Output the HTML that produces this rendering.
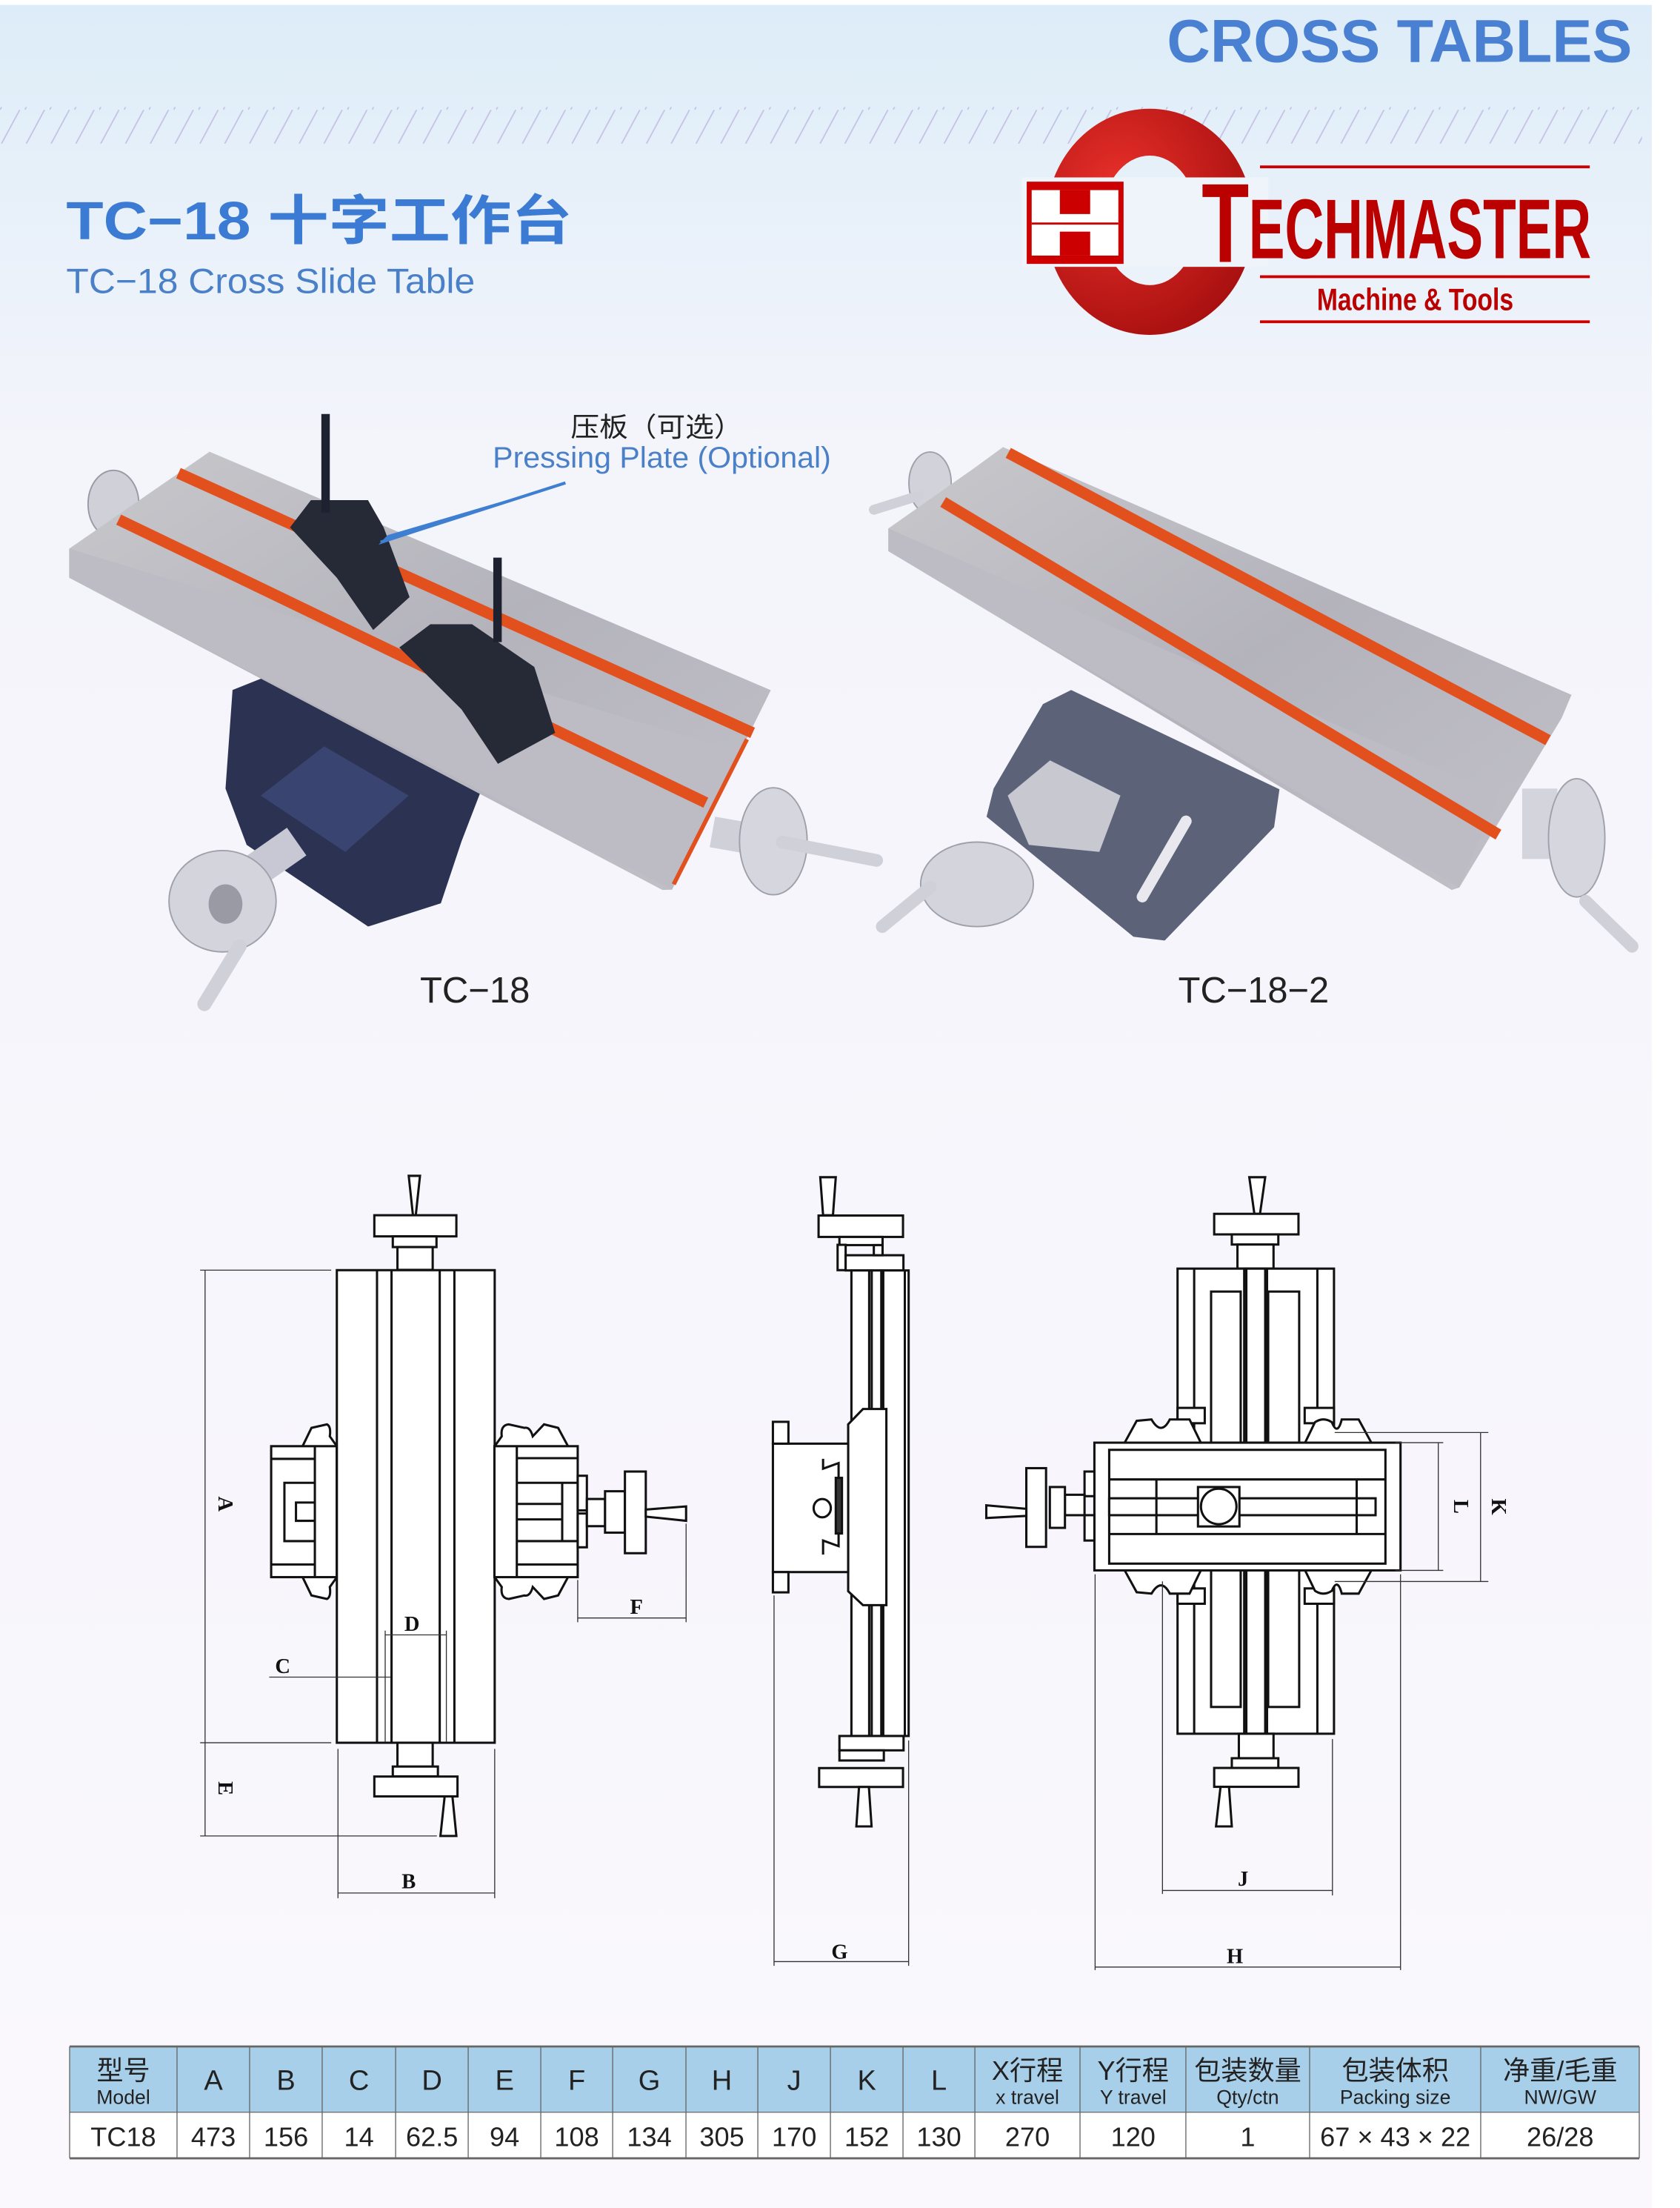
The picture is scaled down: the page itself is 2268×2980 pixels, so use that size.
<!DOCTYPE html>
<html><head><meta charset="utf-8"><style>
html,body{margin:0;padding:0;background:#faf8fc;}
svg{display:block}
</style></head><body>
<svg width="2268" height="2980" viewBox="0 0 1192 1568" preserveAspectRatio="none" xmlns="http://www.w3.org/2000/svg" font-family="'Liberation Sans','Noto Sans CJK SC',sans-serif">
<defs>
<linearGradient id="bg" x1="0" y1="0" x2="0" y2="1">
<stop offset="0" stop-color="#dcecf8"/><stop offset="0.08" stop-color="#e6f0f9"/><stop offset="0.2" stop-color="#f4f4fb"/><stop offset="1" stop-color="#faf8fc"/></linearGradient>
<pattern id="hatch" width="17.6" height="26" patternUnits="userSpaceOnUse">
<line x1="0" y1="26" x2="14" y2="0" stroke="#c4bfe6" stroke-width="0.9"/></pattern>
<linearGradient id="metal" x1="0" y1="0" x2="1" y2="1">
<stop offset="0" stop-color="#c8c8cc"/><stop offset="0.5" stop-color="#b4b3bc"/><stop offset="1" stop-color="#c2c1c8"/></linearGradient>
<radialGradient id="red" cx="0.35" cy="0.35" r="0.8"><stop offset="0" stop-color="#e8302a"/><stop offset="1" stop-color="#a00c0c"/></radialGradient>
</defs>
<rect width="1192" height="1568" fill="url(#bg)"/>
<rect x="0" y="0" width="1192" height="3.5" fill="#fff"/>
<rect x="1172" y="0" width="20" height="1568" fill="#fff"/>
<rect x="0" y="76" width="1165" height="26" fill="url(#hatch)"/>

<text x="828" y="44" font-size="43" font-weight="bold" fill="#4a80d2" textLength="330" lengthAdjust="spacingAndGlyphs">CROSS TABLES</text>
<text x="47" y="170" font-size="38" font-weight="bold" fill="#3b7bd4" textLength="359" lengthAdjust="spacingAndGlyphs">TC−18 十字工作台</text>
<text x="47" y="208" font-size="25" fill="#4a80c8" textLength="290" lengthAdjust="spacingAndGlyphs">TC−18 Cross Slide Table</text>

<!-- logo -->
<path fill-rule="evenodd" fill="url(#red)" d="M742,157.5 a73.7,80.3 0 1,0 147.4,0 a73.7,80.3 0 1,0 -147.4,0 Z M781.6,156.5 a34.2,46 0 1,0 68.4,0 a34.2,46 0 1,0 -68.4,0 Z"/>
<rect x="725" y="126" width="175" height="63.5" fill="#eff3fa"/>
<rect x="728.5" y="129" width="68.7" height="58.4" fill="#c00"/>
<rect x="732" y="135" width="61.5" height="46.5" fill="#fff"/>
<rect x="752" y="135" width="21.5" height="17" fill="#c00"/>
<rect x="752" y="164.5" width="21.5" height="17" fill="#c00"/>
<rect x="732" y="158" width="61.5" height="1.5" fill="#c00"/>
<text x="852.6" y="186" font-size="80" font-weight="bold" fill="#bb0000" textLength="33.6" lengthAdjust="spacingAndGlyphs">T</text>
<text x="886" y="183.5" font-size="60" font-weight="bold" fill="#bb0000" textLength="243" lengthAdjust="spacingAndGlyphs">ECHMASTER</text>
<rect x="894" y="117.5" width="234" height="2" fill="#c00"/>
<rect x="894" y="195.5" width="234" height="2" fill="#c00"/>
<rect x="894" y="227.5" width="234" height="2" fill="#c00"/>
<text x="934.4" y="220.2" font-size="22" font-weight="bold" fill="#bb0000" textLength="139.4" lengthAdjust="spacingAndGlyphs">Machine &amp; Tools</text>

<!-- Photo TC-18 -->
<polygon points="165,490 190,480 342.3,558.9 327.5,597.4 312.8,641.5 261.2,658 175,600 160,560" fill="#2c3352"/>
<polygon points="185,565 230,530 290,565 245,605" fill="#3a4470"/>
<rect x="165" y="600" width="50" height="24" fill="#c7c8d4" transform="rotate(-35 190 612)"/>
<ellipse cx="80.5" cy="358" rx="18" ry="24" fill="#cfd0d8" stroke="#9a9aa6"/>
<polygon points="148.7,320.8 546.9,490.1 476.8,631.8 470,632 49.1,410.3 49.1,389.6" fill="url(#metal)"/>
<polygon points="49.1,389.6 523,534 476.8,631.8 49.1,410.3" fill="#bdbcc4"/>
<line x1="126.6" y1="336" x2="534" y2="520.4" stroke="#e2501e" stroke-width="8"/>
<line x1="84.2" y1="369" x2="500.8" y2="570" stroke="#e2501e" stroke-width="8"/>
<line x1="530" y1="525" x2="478" y2="628" stroke="#e2501e" stroke-width="3"/>
<rect x="505" y="585" width="60" height="22" fill="#d0d0d8" transform="rotate(10 535 596)"/>
<ellipse cx="548.7" cy="597.4" rx="24" ry="38" fill="#d6d6de" stroke="#a0a0aa"/>
<line x1="555" y1="598" x2="622" y2="611" stroke="#cfd0d8" stroke-width="9" stroke-linecap="round"/>
<ellipse cx="157.9" cy="640" rx="38" ry="36" fill="#d4d4dc" stroke="#a0a0aa"/>
<ellipse cx="160" cy="642" rx="12" ry="14" fill="#9a9aa4"/>
<line x1="170" y1="672" x2="145" y2="713" stroke="#d0d0d8" stroke-width="10" stroke-linecap="round"/>
<polygon points="205.8,374.5 220.6,355.2 261.1,355.2 272.2,374.5 290.6,424 264.8,447.4 239,410.3" fill="#262a36"/>
<rect x="228" y="294" width="6" height="70" fill="#1e2230"/>
<polygon points="283.3,459.8 305.4,443.3 334.9,443.3 379.1,473.6 393.9,520.4 353.3,542.4 327.5,503.8" fill="#262a36"/>
<rect x="350" y="396" width="6" height="60" fill="#1e2230"/>
<polygon points="401.2,342.9 268.5,386.9 275,380" fill="#3f7fd2"/>
<line x1="401.2" y1="342.9" x2="270" y2="385" stroke="#3f7fd2" stroke-width="2.2"/>
<text x="404.9" y="309.8" font-size="19" fill="#222" textLength="122" lengthAdjust="spacingAndGlyphs">压板（可选）</text>
<text x="349.6" y="332" font-size="21" fill="#4a80c8" textLength="240" lengthAdjust="spacingAndGlyphs">Pressing Plate (Optional)</text>
<text x="298" y="712" font-size="26" fill="#222" textLength="78" lengthAdjust="spacingAndGlyphs">TC−18</text>

<!-- Photo TC-18-2 -->
<polygon points="740,500 760,490 907.8,560.5 904,587.4 826.4,667.9 804.2,665.2 700,580 705,560" fill="#5c6278"/>
<polygon points="715,565 745,540 795,565 780,605 730,600" fill="#c8c8d0"/>
<rect x="822" y="575" width="8" height="70" rx="4" fill="#e8e8ee" transform="rotate(30 826 610)"/>
<ellipse cx="659.9" cy="343" rx="15" ry="22" fill="#d2d2da" stroke="#a0a0aa"/>
<line x1="652" y1="352" x2="620" y2="362" stroke="#d0d0d8" stroke-width="7" stroke-linecap="round"/>
<polygon points="711.7,317.5 1115,493.4 1108,510 1035.4,630.3 1030,632 630.3,391.4 630.3,375.3 691.4,332.3" fill="url(#metal)"/>
<polygon points="630.3,375.3 1063,565 1035.4,630.3 630.3,391.4" fill="#bdbcc4"/>
<line x1="715.4" y1="321.6" x2="1098.4" y2="525.6" stroke="#e2501e" stroke-width="8"/>
<line x1="669.2" y1="356.5" x2="1063.2" y2="592.7" stroke="#e2501e" stroke-width="8"/>
<rect x="1080" y="560" width="25" height="50" fill="#d4d4dc"/>
<ellipse cx="1118.7" cy="595" rx="20" ry="42" fill="#d6d6de" stroke="#a0a0aa"/>
<line x1="1125" y1="640" x2="1158" y2="672" stroke="#d0d0d8" stroke-width="9" stroke-linecap="round"/>
<ellipse cx="693.2" cy="628" rx="40" ry="30" fill="#d4d4dc" stroke="#a0a0aa"/>
<line x1="660" y1="630" x2="626" y2="658" stroke="#d0d0d8" stroke-width="9" stroke-linecap="round"/>
<text x="836" y="712" font-size="26" fill="#222" textLength="107" lengthAdjust="spacingAndGlyphs">TC−18−2</text>

<!-- Drawing 1 (top view) -->
<g fill="none" stroke="#111" stroke-width="1.6">
<polygon points="290,835 298,835 295,863 293,863" fill="#fff"/>
<rect x="265.6" y="863" width="58.2" height="15" fill="#fff"/>
<rect x="278.7" y="878" width="31" height="7.6" fill="#fff"/>
<rect x="282" y="885.6" width="25" height="16.2" fill="#fff"/>
<rect x="239" y="902" width="112" height="335.6" fill="#fff"/>
<line x1="267.5" y1="902" x2="267.5" y2="1237.6"/><line x1="277.8" y1="902" x2="277.8" y2="1237.6"/>
<line x1="312" y1="902" x2="312" y2="1237.6"/><line x1="322.4" y1="902" x2="322.4" y2="1237.6"/>
<rect x="282" y="1237.6" width="25" height="17" fill="#fff"/>
<rect x="278.7" y="1254.5" width="32" height="7" fill="#fff"/>
<rect x="265.6" y="1261.6" width="59" height="14.1" fill="#fff"/>
<polygon points="315.5,1275.7 321,1275.7 323.8,1303.8 312.5,1303.8" fill="#fff"/>
<path d="M214.7,1027 L221,1014 L232,1011.5 Q235,1013 234,1020 L239,1027" fill="#fff"/>
<path d="M214.7,1120 L221,1133 L232,1135.5 Q235,1134 234,1127 L239,1120" fill="#fff"/>
<rect x="192.4" y="1027" width="46.5" height="93" fill="#fff"/>
<line x1="223.4" y1="1027" x2="223.4" y2="1120"/>
<line x1="192.4" y1="1036" x2="223.4" y2="1036"/><line x1="192.4" y1="1111" x2="223.4" y2="1111"/>
<polyline points="223.4,1053 201.8,1053 201.8,1094.4 223.4,1094.4"/>
<polyline points="223.4,1067 210,1067 210,1080 223.4,1080"/>
<path d="M351,1027 L356,1020 Q355,1012 361,1011.5 L372,1014 Q376,1013 378,1020 L386,1011.5 L396,1014 L403,1027" fill="#fff"/>
<path d="M351,1120 L356,1127 Q355,1135 361,1135.5 L372,1133 Q376,1134 378,1127 L386,1135.5 L396,1133 L403,1120" fill="#fff"/>
<rect x="350.8" y="1027" width="59.1" height="93" fill="#fff"/>
<line x1="366.7" y1="1027" x2="366.7" y2="1120"/>
<line x1="366.7" y1="1035.5" x2="409.9" y2="1035.5"/><line x1="366.7" y1="1053" x2="409.9" y2="1053"/>
<line x1="366.7" y1="1068" x2="398.9" y2="1068"/><line x1="366.7" y1="1079" x2="398.9" y2="1079"/>
<line x1="366.7" y1="1094.4" x2="409.9" y2="1094.4"/><line x1="366.7" y1="1111" x2="409.9" y2="1111"/>
<line x1="398.9" y1="1053" x2="398.9" y2="1094.4"/>
<rect x="409.9" y="1048" width="6.5" height="24.6" fill="#fff"/><rect x="409.9" y="1074.8" width="6.5" height="24" fill="#fff"/>
<rect x="416.4" y="1064.5" width="12.9" height="19.3" fill="#fff"/>
<rect x="429.3" y="1059" width="14.1" height="29.4" fill="#fff"/>
<rect x="443.4" y="1045" width="14.8" height="58" fill="#fff"/>
<polygon points="458.2,1072 486.8,1069.8 486.8,1080 458.2,1077" fill="#fff"/>
</g>
<g stroke="#333" stroke-width="0.7" fill="none">
<line x1="145.5" y1="902" x2="145.5" y2="1303.8"/>
<line x1="142" y1="902" x2="235" y2="902"/><line x1="142" y1="1237.6" x2="235" y2="1237.6"/>
<line x1="142" y1="1303.8" x2="310" y2="1303.8"/>
<line x1="239.8" y1="1242" x2="239.8" y2="1348"/><line x1="351" y1="1242" x2="351" y2="1348"/>
<line x1="239.8" y1="1344.3" x2="351" y2="1344.3"/>
<line x1="409.9" y1="1122" x2="409.9" y2="1152"/><line x1="486.8" y1="1082" x2="486.8" y2="1152"/>
<line x1="409.9" y1="1149" x2="486.8" y2="1149"/>
<line x1="273.3" y1="1158" x2="273.3" y2="1237"/><line x1="316.7" y1="1158" x2="316.7" y2="1237"/>
<line x1="273.3" y1="1161" x2="316.7" y2="1161"/>
<line x1="191" y1="1191" x2="277" y2="1191"/>
</g>
<g font-family="'Liberation Serif',serif" font-weight="bold" font-size="15" fill="#111">
<text x="155" y="1068" transform="rotate(90 155 1068)" text-anchor="middle">A</text>
<text x="155" y="1270" transform="rotate(90 155 1270)" text-anchor="middle">E</text>
<text x="290" y="1341" text-anchor="middle">B</text>
<text x="451.6" y="1146" text-anchor="middle">F</text>
<text x="292.3" y="1158" text-anchor="middle">D</text>
<text x="200.6" y="1188" text-anchor="middle">C</text>
<text x="595.7" y="1391" text-anchor="middle">G</text>
<text x="882" y="1339" text-anchor="middle">J</text>
<text x="876.2" y="1394" text-anchor="middle">H</text>
<text x="1031.7" y="1070" transform="rotate(90 1031.7 1070)" text-anchor="middle">L</text>
<text x="1058.5" y="1070" transform="rotate(90 1058.5 1070)" text-anchor="middle">K</text>
</g>

<!-- Drawing 2 (side view) -->
<g fill="#fff" stroke="#111" stroke-width="1.6">
<polygon points="582,836 593,836 591,863 584,863"/>
<rect x="580.8" y="863.2" width="59.9" height="15.2"/>
<rect x="595.6" y="878.4" width="30.6" height="5.8"/>
<rect x="594.3" y="884" width="5.7" height="18"/>
<rect x="600" y="891.4" width="41" height="10.8"/>
<rect x="620" y="884.2" width="6.2" height="7.2"/>
<rect x="604.1" y="902.2" width="40.6" height="330.6"/>
<line x1="616.7" y1="902.2" x2="616.7" y2="1232.8"/><line x1="618.5" y1="902.2" x2="618.5" y2="1232.8"/>
<line x1="626" y1="902.2" x2="626" y2="1232.8" stroke-width="3"/>
<line x1="642" y1="902.2" x2="642" y2="1232.8"/>
<polygon points="601.8,1011.5 612.3,1000.6 628.9,1000.6 628.9,1139.9 612.3,1139.9 601.8,1130"/>
<rect x="548.4" y="1025.2" width="53.4" height="91.2"/>
<rect x="548.4" y="1009.7" width="11" height="15.5"/><rect x="548.4" y="1116.4" width="11" height="14.4"/>
<polyline points="584,1036 584,1043 595,1039 595,1098 584,1094 584,1104" fill="none"/>
<rect x="593" y="1049.5" width="4.4" height="39.5" fill="#333"/>
<ellipse cx="583.4" cy="1071" rx="6.1" ry="6.5"/>
<rect x="595.6" y="1232.8" width="45.5" height="10.2"/>
<rect x="595.6" y="1243" width="31.5" height="7.2"/>
<rect x="581.2" y="1255.6" width="59.5" height="13.4"/>
<polygon points="609.5,1269 616.5,1269 618.4,1297 607.6,1297"/>
</g>
<g stroke="#333" stroke-width="0.7">
<line x1="549.2" y1="1133" x2="549.2" y2="1396"/><line x1="644.7" y1="1236" x2="644.7" y2="1396"/>
<line x1="549.2" y1="1393" x2="644.7" y2="1393"/>
</g>

<!-- Drawing 3 (front view) -->
<g fill="#fff" stroke="#111" stroke-width="1.6">
<polygon points="886.4,836 897.7,836 894,862 890,862"/>
<rect x="861.5" y="862" width="59.8" height="14.6"/>
<rect x="874" y="876.6" width="33" height="7.2"/>
<rect x="878" y="883.8" width="25.6" height="17.1"/>
<rect x="835.5" y="900.9" width="111" height="123.6"/>
<line x1="847.3" y1="900.9" x2="847.3" y2="1024.5"/><line x1="934.7" y1="900.9" x2="934.7" y2="1024.5"/>
<rect x="859.3" y="917.2" width="21" height="107.3"/><rect x="899.8" y="917.2" width="22" height="107.3"/>
<rect x="884.3" y="900.9" width="13.4" height="123.6"/>
<line x1="882.8" y1="900.9" x2="882.8" y2="1024.5"/><line x1="899" y1="900.9" x2="899" y2="1024.5"/>
<rect x="835.5" y="999.8" width="19.3" height="10.9"/><rect x="925.7" y="999.8" width="20.8" height="10.9"/>
<rect x="835.5" y="1115.2" width="111" height="116"/>
<line x1="847.3" y1="1115.2" x2="847.3" y2="1231.2"/><line x1="934.7" y1="1115.2" x2="934.7" y2="1231.2"/>
<rect x="859.3" y="1115.2" width="21" height="97"/><rect x="899.8" y="1115.2" width="22" height="97"/>
<rect x="884.3" y="1115.2" width="13.4" height="116"/>
<line x1="882.8" y1="1115.2" x2="882.8" y2="1231.2"/><line x1="899" y1="1115.2" x2="899" y2="1231.2"/>
<rect x="835.5" y="1128" width="19.3" height="10.9"/><rect x="925.7" y="1128" width="20.8" height="10.9"/>
<rect x="879" y="1231.2" width="24.6" height="17.4"/>
<rect x="874" y="1248.6" width="33" height="7"/>
<rect x="861.5" y="1255.5" width="59.8" height="13.4"/>
<polygon points="866,1268.9 872,1268.9 874,1297 862.8,1297"/>
<path d="M798,1024.5 L806.5,1009 L817,1008 Q824,1020 830,1008 L844,1008 L852,1024.5"/>
<path d="M926,1024.5 L933,1010 Q939,1006 945,1010 Q949,1020 952,1008 L964,1008 L973,1024.5"/>
<path d="M798,1115.2 L806.5,1130.7 L817,1131.7 Q824,1120 830,1131.7 L844,1131.7 L852,1115.2"/>
<path d="M926,1115.2 L933,1129.7 Q939,1133.7 945,1129.7 Q949,1120 952,1131.7 L964,1131.7 L973,1115.2"/>
<rect x="776.5" y="1024.5" width="217.2" height="90.7"/>
<rect x="787" y="1029.6" width="196" height="80.8"/>
<line x1="787" y1="1050.6" x2="983" y2="1050.6"/><line x1="787" y1="1089.4" x2="983" y2="1089.4"/>
<rect x="787" y="1064" width="189" height="12"/>
<line x1="820.5" y1="1050.6" x2="820.5" y2="1089.4"/><line x1="962.6" y1="1050.6" x2="962.6" y2="1089.4"/>
<rect x="850" y="1056" width="29.4" height="28"/>
<circle cx="864.7" cy="1069.8" r="12.6"/>
<rect x="769.5" y="1045" width="7" height="17.5"/><rect x="769.5" y="1076" width="7" height="18"/>
<rect x="755.6" y="1061.5" width="13.9" height="14.5"/>
<rect x="744.9" y="1056" width="10.7" height="29"/>
<rect x="728.2" y="1042.6" width="14" height="55.9"/>
<polygon points="699.8,1069 728.2,1071.5 728.2,1076.5 699.8,1078"/>
</g>
<g stroke="#333" stroke-width="0.7">
<line x1="990" y1="1024.5" x2="1024" y2="1024.5"/><line x1="990" y1="1115.2" x2="1024" y2="1115.2"/>
<line x1="1020.5" y1="1024.5" x2="1020.5" y2="1115.2"/>
<line x1="947" y1="1017.3" x2="1056" y2="1017.3"/><line x1="947" y1="1123.1" x2="1056" y2="1123.1"/>
<line x1="1050.5" y1="1017.3" x2="1050.5" y2="1123.1"/>
<line x1="824.8" y1="1123" x2="824.8" y2="1345"/><line x1="945.4" y1="1235" x2="945.4" y2="1346"/>
<line x1="824.8" y1="1342.5" x2="945.4" y2="1342.5"/>
<line x1="777" y1="1118" x2="777" y2="1399"/><line x1="993.7" y1="1118" x2="993.7" y2="1399"/>
<line x1="777" y1="1396.9" x2="993.7" y2="1396.9"/>
</g>

<!-- Spec table -->
<rect x="49.4" y="1453.3" width="1113.7" height="46.7" fill="#a8cfe9"/>
<rect x="49.4" y="1500" width="1113.7" height="32.7" fill="#fff"/>
<g stroke="#666" stroke-width="0.7">
<line x1="49.4" y1="1453.3" x2="1163.1" y2="1453.3" stroke-width="1.5"/>
<line x1="49.4" y1="1500" x2="1163.1" y2="1500"/>
<line x1="49.4" y1="1532.7" x2="1163.1" y2="1532.7" stroke-width="1.5"/>
<line x1="49.4" y1="1453.3" x2="49.4" y2="1532.7"/>
<line x1="125.6" y1="1453.3" x2="125.6" y2="1532.7"/><line x1="177.1" y1="1453.3" x2="177.1" y2="1532.7"/>
<line x1="228.6" y1="1453.3" x2="228.6" y2="1532.7"/><line x1="280.7" y1="1453.3" x2="280.7" y2="1532.7"/>
<line x1="332.2" y1="1453.3" x2="332.2" y2="1532.7"/><line x1="383.7" y1="1453.3" x2="383.7" y2="1532.7"/>
<line x1="434.7" y1="1453.3" x2="434.7" y2="1532.7"/><line x1="486.7" y1="1453.3" x2="486.7" y2="1532.7"/>
<line x1="537.7" y1="1453.3" x2="537.7" y2="1532.7"/><line x1="589.2" y1="1453.3" x2="589.2" y2="1532.7"/>
<line x1="640.7" y1="1453.3" x2="640.7" y2="1532.7"/><line x1="691.7" y1="1453.3" x2="691.7" y2="1532.7"/>
<line x1="766.3" y1="1453.3" x2="766.3" y2="1532.7"/><line x1="841.4" y1="1453.3" x2="841.4" y2="1532.7"/>
<line x1="929.2" y1="1453.3" x2="929.2" y2="1532.7"/><line x1="1050.6" y1="1453.3" x2="1050.6" y2="1532.7"/>
<line x1="1163.1" y1="1453.3" x2="1163.1" y2="1532.7"/>
</g>
<g font-size="19" fill="#222" text-anchor="middle">
<text x="87.5" y="1477">型号</text>
<text x="729" y="1477">X行程</text><text x="804" y="1477">Y行程</text>
<text x="885.3" y="1477">包装数量</text><text x="990" y="1477">包装体积</text><text x="1107" y="1477">净重/毛重</text>
</g>
<g font-size="14" fill="#222" text-anchor="middle">
<text x="87.5" y="1494">Model</text><text x="729" y="1494">x travel</text><text x="804" y="1494">Y travel</text>
<text x="885.3" y="1494">Qty/ctn</text><text x="990" y="1494">Packing size</text><text x="1107" y="1494">NW/GW</text>
</g>
<g font-size="20" fill="#222" text-anchor="middle">
<text x="151.4" y="1484">A</text><text x="202.9" y="1484">B</text><text x="254.7" y="1484">C</text>
<text x="306.5" y="1484">D</text><text x="358" y="1484">E</text><text x="409.2" y="1484">F</text>
<text x="460.7" y="1484">G</text><text x="512.2" y="1484">H</text><text x="563.5" y="1484">J</text>
<text x="615" y="1484">K</text><text x="666.2" y="1484">L</text>
</g>
<g font-size="19" fill="#222" text-anchor="middle">
<text x="87.5" y="1524">TC18</text><text x="151.4" y="1524">473</text><text x="202.9" y="1524">156</text>
<text x="254.7" y="1524">14</text><text x="306.5" y="1524">62.5</text><text x="358" y="1524">94</text>
<text x="409.2" y="1524">108</text><text x="460.7" y="1524">134</text><text x="512.2" y="1524">305</text>
<text x="563.5" y="1524">170</text><text x="615" y="1524">152</text><text x="666.2" y="1524">130</text>
<text x="729" y="1524">270</text><text x="804" y="1524">120</text><text x="885.3" y="1524">1</text>
<text x="990" y="1524">67 × 43 × 22</text><text x="1107" y="1524">26/28</text>
</g>
</svg>
</body></html>
